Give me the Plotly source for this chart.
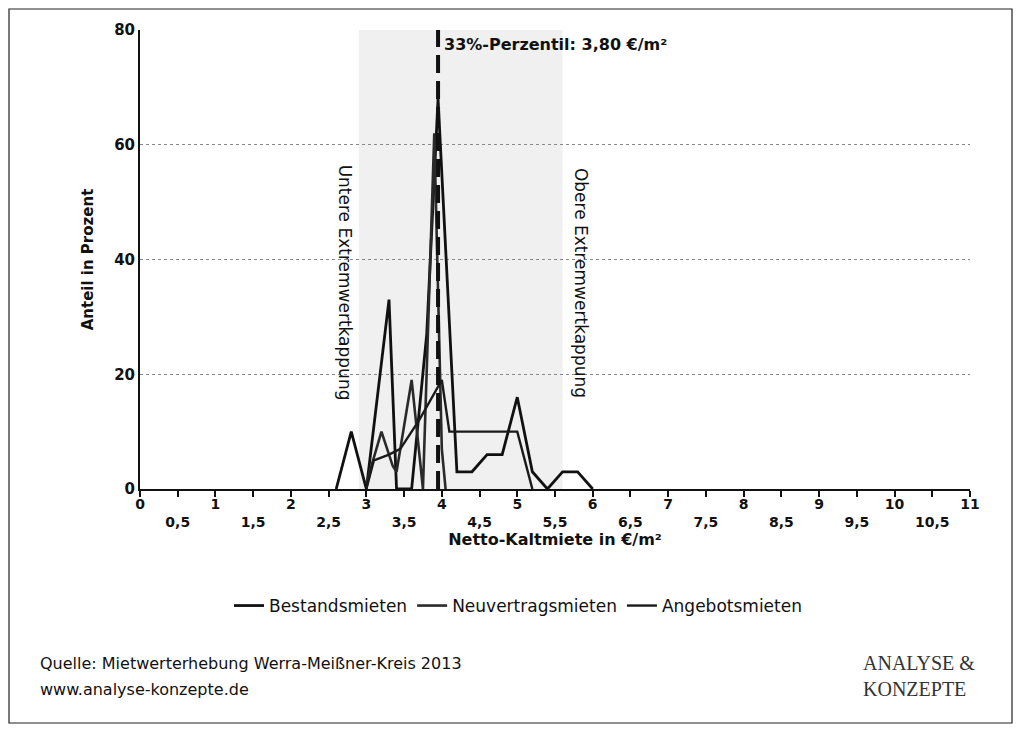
import plotly.graph_objects as go

# ---- data ----
best_x = [2.6, 2.8, 3.0, 3.3, 3.4, 3.6, 3.8, 3.95, 4.2, 4.4, 4.6, 4.8, 5.0, 5.2, 5.4, 5.6, 5.8, 6.0]
best_y = [0, 10, 0, 33, 0, 0, 27, 68, 3, 3, 6, 6, 16, 3, 0, 3, 3, 0]

neu_x = [3.0, 3.2, 3.35, 3.4, 3.6, 3.75, 3.9, 4.0, 4.05]
neu_y = [1, 10, 4, 3, 19, 0, 62, 7, 0]

ang_x = [3.0, 3.1, 3.3, 3.45, 3.7, 4.0, 4.1, 4.5, 4.9, 5.0, 5.2]
ang_y = [0, 5, 6, 7, 12, 19, 10, 10, 10, 10, 0]

series_names = ["Bestandsmieten", "Neuvertragsmieten", "Angebotsmieten"]

x_ticks = [i * 0.5 for i in range(23)]
x_ticktext = [(str(int(v)) if v == int(v) else "<br>" + f"{v:.1f}".replace(".", ",")) for v in x_ticks]
y_ticks = [0, 20, 40, 60, 80]

percentile_x = 3.95
percentile_label = "33%-Perzentil: 3,80 €/m²"
band_lo, band_hi = 2.9, 5.6

# ---- geometry (screen px; page body has an 8px margin) ----
OFF = 8
W, H = 1005, 717
L, T = 140 - OFF, 30 - OFF
R = W - (970 - OFF)
B = H - (489 - OFF)
pw, ph = W - L - R, H - T - B


def px(xs):
    return (xs - OFF - L) / pw


def py(ys):
    return (H - B - (ys - OFF)) / ph


fig = go.Figure()

fig.add_shape(type="rect", xref="x", yref="y", x0=band_lo, x1=band_hi, y0=0, y1=80,
              fillcolor="#f0f0f0", line_width=0, layer="below")

fig.add_trace(go.Scatter(x=best_x, y=best_y, mode="lines", name=series_names[0],
                         line=dict(color="#111111", width=2.8)))
fig.add_trace(go.Scatter(x=neu_x, y=neu_y, mode="lines", name=series_names[1],
                         line=dict(color="#2a2a2a", width=2.6)))
fig.add_trace(go.Scatter(x=ang_x, y=ang_y, mode="lines", name=series_names[2],
                         line=dict(color="#1a1a1a", width=2.4)))

fig.add_trace(go.Scatter(x=[percentile_x, percentile_x], y=[0, 80], mode="lines",
                         showlegend=False, line=dict(color="#111111", width=4, dash="18px,8px")))

fig.add_annotation(x=percentile_x, y=80, xref="x", yref="y", text=percentile_label,
                   showarrow=False, xanchor="left", yanchor="top", xshift=4, yshift=-3,
                   font=dict(family="DejaVu Sans", size=16, color="#111111", weight="bold"))
fig.add_annotation(x=band_lo, y=36, xref="x", yref="y", text="Untere Extremwertkappung",
                   showarrow=False, textangle=90, xanchor="right", xshift=-2, yanchor="middle",
                   font=dict(family="DejaVu Sans", size=17, color="#111111"))
fig.add_annotation(x=band_hi, y=36, xref="x", yref="y", text="Obere Extremwertkappung",
                   showarrow=False, textangle=90, xanchor="left", xshift=6, yanchor="middle",
                   font=dict(family="DejaVu Sans", size=17, color="#111111"))

# footer texts
fig.add_annotation(x=px(38), y=py(663), xref="paper", yref="paper", xanchor="left", yanchor="middle",
                   text="Quelle: Mietwerterhebung Werra-Meißner-Kreis 2013", showarrow=False,
                   font=dict(family="DejaVu Sans", size=16, color="#111111"))
fig.add_annotation(x=px(38), y=py(689), xref="paper", yref="paper", xanchor="left", yanchor="middle",
                   text="www.analyse-konzepte.de", showarrow=False,
                   font=dict(family="DejaVu Sans", size=16, color="#111111"))
fig.add_annotation(x=px(977), y=py(676), xref="paper", yref="paper", xanchor="right", yanchor="middle",
                   text="ANALYSE &amp;<br>KONZEPTE", showarrow=False, align="left",
                   font=dict(family="Liberation Serif", size=20, color="#333333"))

# outer frame
fig.add_shape(type="rect", xref="paper", yref="paper", x0=px(9), x1=px(1012), y0=py(723), y1=py(9),
              line=dict(color="#222222", width=1.2), fillcolor="rgba(0,0,0,0)")

fig.update_layout(
    width=W, height=H,
    margin=dict(l=L, r=R, t=T, b=B, autoexpand=False),
    paper_bgcolor="white", plot_bgcolor="white",
    font=dict(family="DejaVu Sans", color="#111111"),
    legend=dict(orientation="h", x=px(518), y=py(606), xanchor="center", yanchor="middle",
                font=dict(family="DejaVu Sans", size=17), itemwidth=30,
                bgcolor="rgba(0,0,0,0)"),
    xaxis=dict(range=[0, 11], tickvals=x_ticks, ticktext=x_ticktext, showgrid=False,
               showline=True, linecolor="#111111", linewidth=2, ticks="outside", ticklen=6,
               tickcolor="#111111", tickwidth=1.5, zeroline=False, automargin=False,
               ticklabelstandoff=-5,
               tickfont=dict(family="DejaVu Sans", size=14, color="#111111", weight="bold"),
               title=dict(text="<b>Netto-Kaltmiete in €/m²</b>", standoff=0,
                          font=dict(family="DejaVu Sans", size=16))),
    yaxis=dict(range=[0, 80], tickvals=y_ticks, showgrid=True, gridcolor="#888888", griddash="dot",
               gridwidth=1, showline=True, linecolor="#111111", linewidth=2, zeroline=False,
               ticks="", automargin=False,
               tickfont=dict(family="DejaVu Sans", size=15, color="#111111", weight="bold"),
               title=dict(text="<b>Anteil in Prozent</b>", standoff=17,
                          font=dict(family="DejaVu Sans", size=15))),
)

fig.write_html("out.html")
